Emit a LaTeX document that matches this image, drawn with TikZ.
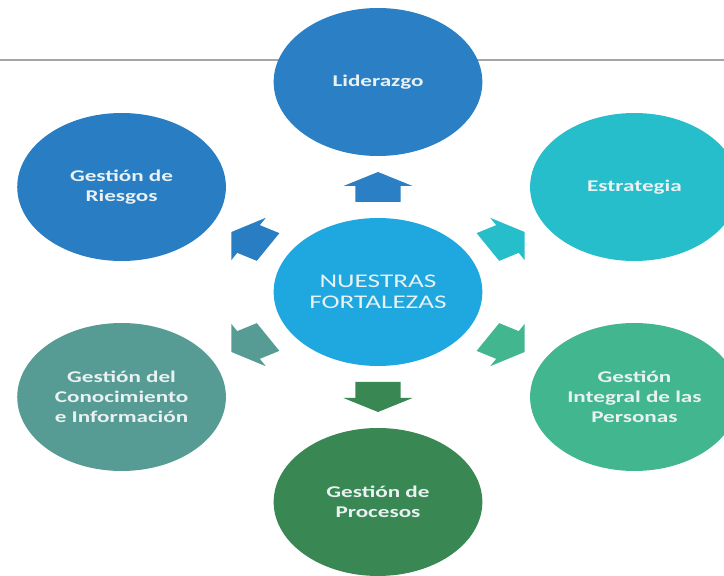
\documentclass[tikz,border=0pt]{standalone}
\usepackage{fontspec}
\setmainfont{Carlito}
\usetikzlibrary{calc}

\definecolor{liderblue}{RGB}{42,127,197}
\definecolor{riesgoblue}{RGB}{41,125,195}
\definecolor{estratcyan}{RGB}{39,190,204}
\definecolor{coreblue}{RGB}{31,167,224}
\definecolor{personteal}{RGB}{66,182,143}
\definecolor{procgreen}{RGB}{57,136,84}
\definecolor{conocteal}{RGB}{86,156,148}
\definecolor{labelwhite}{RGB}{234,241,243}
\definecolor{rulegray}{RGB}{165,165,165}

\tikzset{
  petal/.style={circle, minimum size=4.44cm, inner sep=0pt, align=center,
    text=labelwhite, font=\bfseries\fontsize{14}{17}\selectfont, transform shape},
  hub/.style={petal, font=\fontsize{16.5}{18}\selectfont},
  bigarrow/.pic={\fill[pic actions] (-15,-16) -- (1,-16) -- (1,-24.5) -- (15,0)
    -- (1,24.5) -- (1,16) -- (-15,16) -- cycle;}
}

\begin{document}
\begin{tikzpicture}[x=0.03cm, y=0.03cm, xscale=1.41]
\clip (-268.09,-284) rectangle (245.39,292);

\coordinate (ruleL) at (-268.09,232);
\coordinate (ruleR) at (245.39,232);
\draw[rulegray, line width=1.6pt] (ruleL) -- (ruleR);

\node[hub, fill=coreblue] (core) at (0,0) {NUESTRAS\\FORTALEZAS};

\node[petal, fill=liderblue] (lider) at (90:210) {Liderazgo};
\node[petal, fill=estratcyan] (estrat) at (30:210) {Estrategia};
\node[petal, fill=personteal] (person) at (-30:210) {Gestión\\Integral de las\\Personas};
\node[petal, fill=procgreen] (proces) at (-90:210) {Gestión de\\Procesos};
\node[petal, fill=conocteal] (conoc) at (210:210) {Gestión del\\Conocimiento\\e Información};
\node[petal, fill=riesgoblue] (riesgo) at (150:210) {Gestión de\\Riesgos};

\pic[transform shape, rotate=90, fill=liderblue] at ($(core)!0.5!(lider)$) {bigarrow};
\pic[transform shape, rotate=30, fill=estratcyan] at ($(core)!0.5!(estrat)$) {bigarrow};
\pic[transform shape, rotate=-30, fill=personteal] at ($(core)!0.5!(person)$) {bigarrow};
\pic[transform shape, rotate=-90, fill=procgreen] at ($(core)!0.5!(proces)$) {bigarrow};
\pic[transform shape, rotate=210, fill=conocteal] at ($(core)!0.5!(conoc)$) {bigarrow};
\pic[transform shape, rotate=150, fill=riesgoblue] at ($(core)!0.5!(riesgo)$) {bigarrow};

\end{tikzpicture}
\end{document}
